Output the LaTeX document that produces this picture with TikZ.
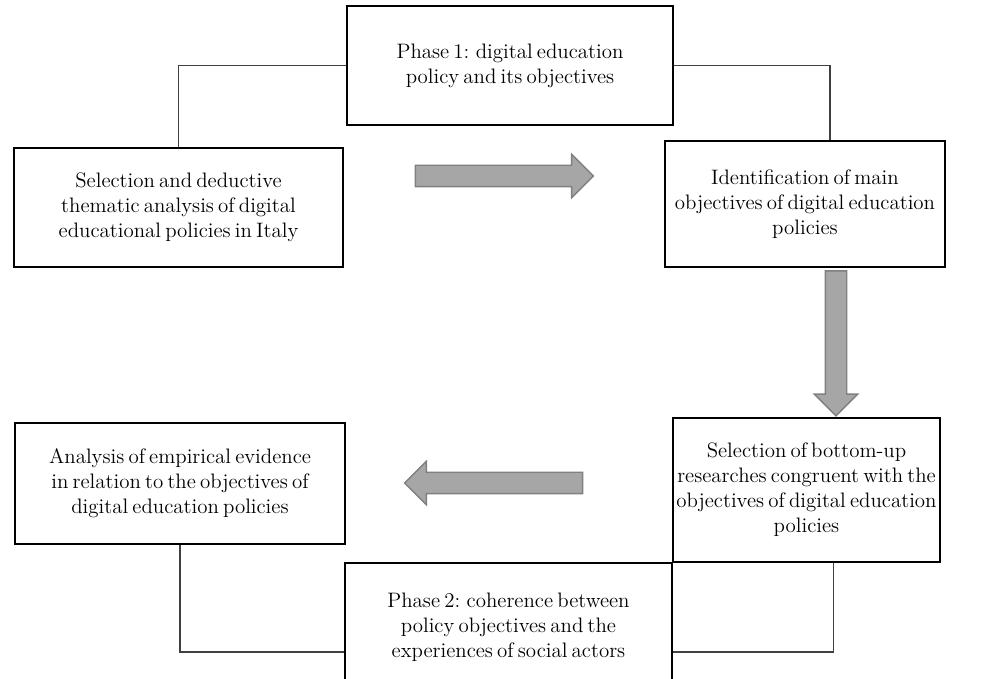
\documentclass[tikz,border=0pt]{standalone}
\usetikzlibrary{shapes.arrows}

\newcommand\stagefont{\fontsize{11.9}{14.2}\selectfont\spaceskip=0.2em plus 0.1em\relax}

\tikzset{
  stagebox/.style={draw=black, line width=1.3pt, fill=white, align=center,
    font=\stagefont, inner sep=0pt},
  link/.style={draw=black!75, line width=0.6pt},
  blockarrow/.style={single arrow, draw=black!50, fill=black!35, line width=0.8pt,
    inner sep=0.2cm, single arrow head extend=0.22cm, minimum width=0.84cm,
    minimum height=3.56cm}
}

\begin{document}
\begin{tikzpicture}
      \useasboundingbox[fill=white] (0,0) rectangle (20,-13.58);
      \clip (0,0) rectangle (20,-13.58);

      \node[stagebox, minimum width=6.52cm, minimum height=2.38cm] (phaseone) at (10.2,-1.31)
        {Phase 1: digital education\\ policy and its objectives};
      \node[stagebox, minimum width=6.58cm, minimum height=2.38cm] (selbox) at (3.57,-4.15)
        {Selection and deductive\\ thematic analysis of digital\\ educational policies in Italy};
      \node[stagebox, minimum width=5.6cm, minimum height=2.52cm] (idbox) at (16.1,-4.08)
        {Identification of main\\ objectives of digital education\\ policies};
      \node[stagebox, minimum width=5.34cm, minimum height=2.88cm] (bubox) at (16.13,-9.8)
        {Selection of bottom-up\\ researches congruent with the\\ objectives of digital education\\ policies};
      \node[stagebox, minimum width=6.6cm, minimum height=2.42cm] (anbox) at (3.6,-9.67)
        {Analysis of empirical evidence\\ in relation to the objectives of\\ digital education policies};
      \node[stagebox, minimum width=6.54cm, minimum height=2.56cm] (phasetwo) at (10.17,-12.54)
        {Phase 2: coherence between\\ policy objectives and the\\ experiences of social actors};

      \node[blockarrow] (arrowA) at (9.98,-3.52) {};
      \node[blockarrow, minimum height=2.9cm, shape border rotate=270] (arrowB) at (16.72,-6.76) {};
      \node[blockarrow, shape border rotate=180] (arrowC) at (9.98,-9.66) {};

      \draw[link] (phaseone.west) -| (selbox.north);
      \draw[link] (phaseone.east) -| ([xshift=0.5cm]idbox.north);
      \draw[link] (anbox.south) |- ([yshift=-0.5cm]phasetwo.west);
      \draw[link] ([xshift=0.54cm]bubox.south) |- ([yshift=-0.5cm]phasetwo.east);
    \end{tikzpicture}
\end{document}
